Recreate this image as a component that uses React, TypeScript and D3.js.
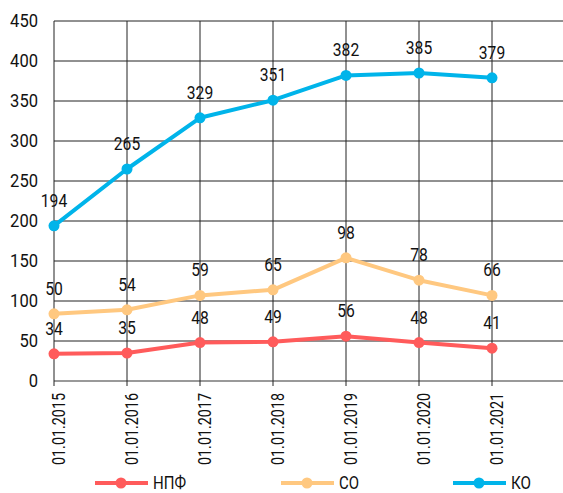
import React from "react";
import * as d3 from "d3";

const categories = ["01.01.2015", "01.01.2016", "01.01.2017", "01.01.2018", "01.01.2019", "01.01.2020", "01.01.2021"];
const npf = [34, 35, 48, 49, 56, 48, 41];
const so = [50, 54, 59, 65, 98, 78, 66];
const ko = [194, 265, 329, 351, 382, 385, 379];
const yTicks = [0, 50, 100, 150, 200, 250, 300, 350, 400, 450];
const seriesNames = ["НПФ", "СО", "КО"];
const colors = ["#FF5B5B", "#FFC880", "#00B4EA"];

// СО is drawn stacked on top of НПФ
const soPlot = so.map((v, i) => v + npf[i]);

const W = 563;
const H = 493;
const left = 54;
const top = 21;
const bottom = 381;
const font = "Roboto, 'Liberation Sans', Arial, sans-serif";
const fs = 18;

function tl(s: string, digitW: number) {
  let w = 0;
  for (const ch of s) w += ch === "." ? digitW * 0.45 : digitW;
  return w;
}

export default function App() {
  const x = d3.scalePoint<string>().domain([...categories, "__end"]).range([left, left + 73 * 7]);
  const y = d3.scaleLinear().domain([0, 450]).range([bottom, top]);
  const line = d3.line<number>().x((_, i) => x(categories[i]) as number).y((d) => y(d));

  const plotted = [npf, soPlot, ko];
  const labels = [npf, so, ko];
  const legendX = [95, 281, 453];
  const legendTL = [33, 20, 20];

  return (
    <svg width={W} height={H} style={{ position: "absolute", left: 0, top: 0 }} fontFamily={font}>
      <rect width={W} height={H} fill="#fff" />
      {yTicks.map((t) => (
        <g key={t}>
          <line x1={left} x2={W} y1={y(t)} y2={y(t)} stroke={t === 0 ? "#777" : "#222"} strokeWidth={t === 0 ? 1.5 : 1} />
          <text x={38} y={y(t)} dy="0.35em" textAnchor="end" fontSize={fs} fill="#111"
            textLength={String(t).length * 9.3} lengthAdjust="spacingAndGlyphs">{t}</text>
        </g>
      ))}
      {categories.map((c) => (
        <g key={c}>
          <line x1={x(c)} x2={x(c)} y1={top} y2={bottom + 5} stroke="#222" strokeWidth={1} />
          <text
            transform={`translate(${(x(c) as number) + 11},${bottom + 12}) rotate(-90)`}
            textAnchor="end"
            fontSize={fs}
            fill="#111"
            textLength={72}
            lengthAdjust="spacingAndGlyphs"
          >{c}</text>
        </g>
      ))}
      {plotted.map((s, si) => (
        <g key={si}>
          <path d={line(s) as string} fill="none" stroke={colors[si]} strokeWidth={4} strokeLinejoin="round" />
          {s.map((v, i) => (
            <circle key={i} cx={x(categories[i])} cy={y(v)} r={5.5} fill={colors[si]} />
          ))}
          {s.map((v, i) => (
            <text key={"t" + i} x={x(categories[i])} y={y(v) - 19} textAnchor="middle" fontSize={fs} fill="#111"
              textLength={tl(String(labels[si][i]), 8.8)} lengthAdjust="spacingAndGlyphs">{labels[si][i]}</text>
          ))}
        </g>
      ))}
      {seriesNames.map((n, si) => (
        <g key={n}>
          <line x1={legendX[si]} x2={legendX[si] + 53} y1={483} y2={483} stroke={colors[si]} strokeWidth={4} />
          <circle cx={legendX[si] + 26} cy={483} r={5.5} fill={colors[si]} />
          <text x={legendX[si] + 58} y={483} dy="0.35em" fontSize={fs} fill="#111"
            textLength={legendTL[si]} lengthAdjust="spacingAndGlyphs">{n}</text>
        </g>
      ))}
    </svg>
  );
}
